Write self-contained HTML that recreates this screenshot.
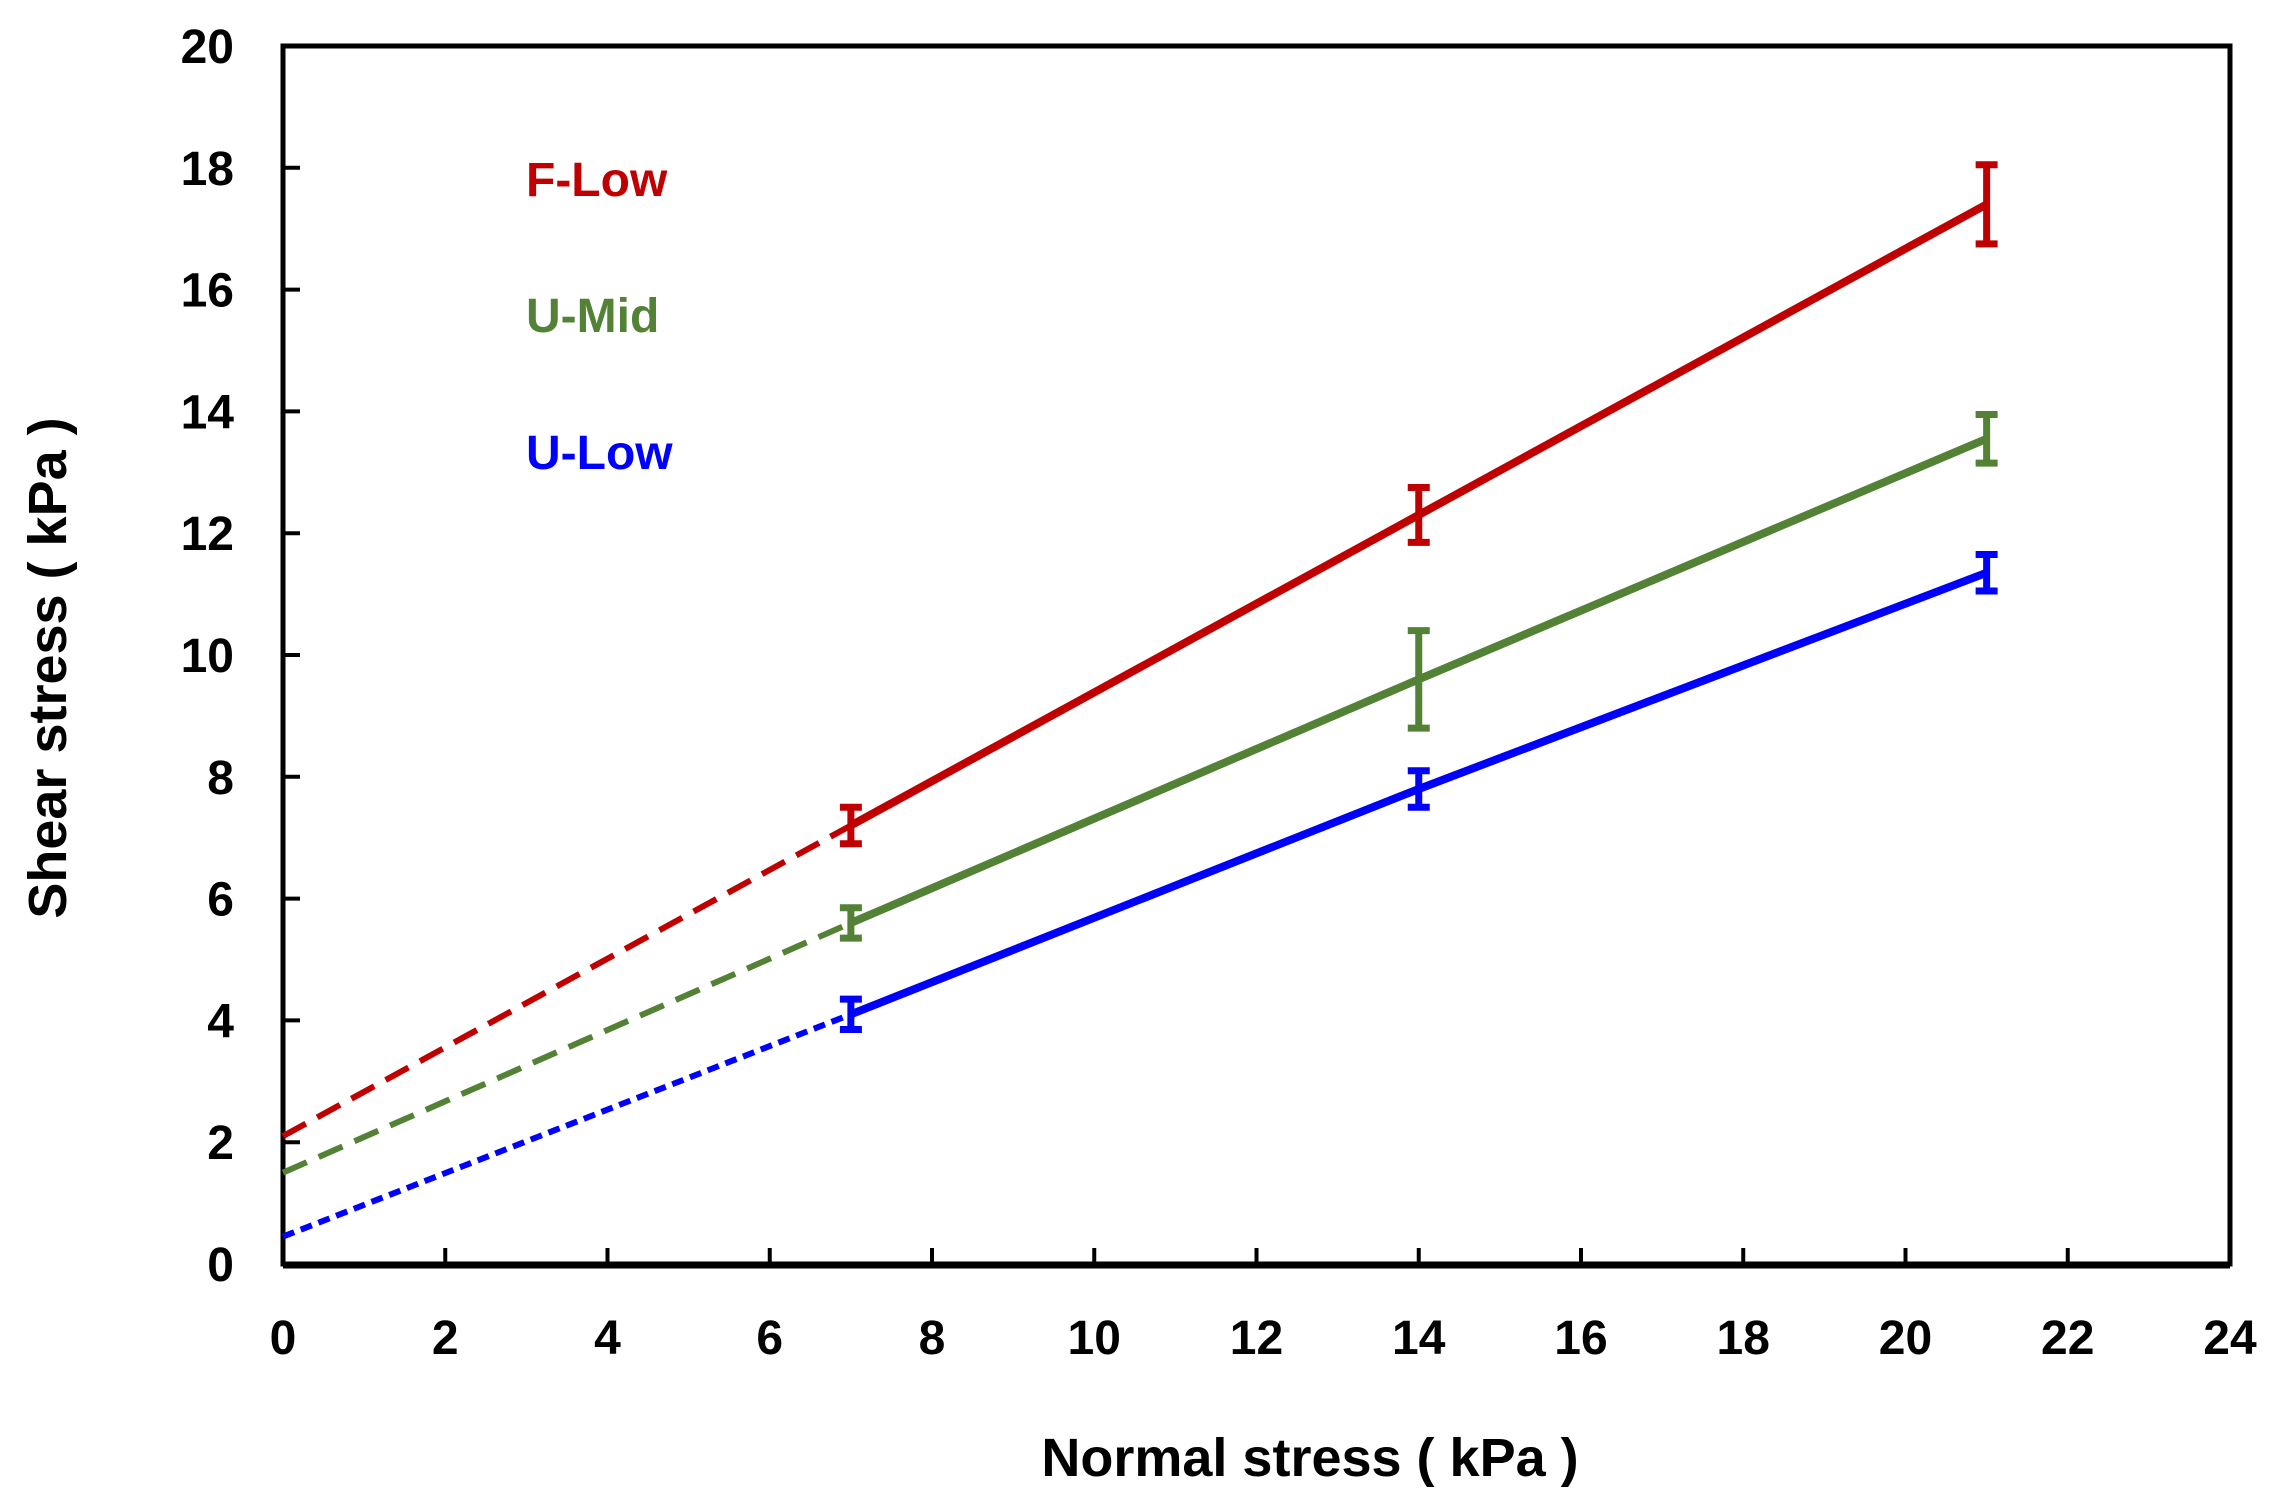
<!DOCTYPE html>
<html><head><meta charset="utf-8"><style>
html,body{margin:0;padding:0;background:#fff}
svg{display:block}
text{font-family:"Liberation Sans",sans-serif;font-weight:bold}
</style></head><body>
<svg id="chart" width="2278" height="1504" viewBox="0 0 2278 1504"></svg>
<script>
const xTicks=[0,2,4,6,8,10,12,14,16,18,20,22,24];
const yTicks=[0,2,4,6,8,10,12,14,16,18,20];
const xValues=[7,14,21];
const fLow=[7.2,12.3,17.4];
const fLowErr=[0.3,0.45,0.65];
const fLowIntercept=2.1;
const uMid=[5.6,9.6,13.55];
const uMidErr=[0.25,0.8,0.4];
const uMidIntercept=1.5;
const uLow=[4.1,7.8,11.35];
const uLowErr=[0.25,0.3,0.3];
const uLowIntercept=0.45;

const L=283,R=2230,T=46,B=1264;
const sx=v=>L+(v/24)*(R-L);
const sy=v=>B-(v/20)*(B-T);
const svg=document.getElementById('chart');
const NS='http://www.w3.org/2000/svg';
function mk(tag,attrs,parent){const e=document.createElementNS(NS,tag);for(const k in attrs)e.setAttribute(k,attrs[k]);(parent||svg).appendChild(e);return e;}

const frame=mk('rect',{x:L,y:T,width:R-L,height:B-T,fill:'none',stroke:'#000','stroke-width':5});


const bx=mk('line',{x1:L,y1:B+1,x2:R,y2:B+1,stroke:'#000','stroke-width':7});



xTicks.forEach(t=>{
  const tk=mk('line',{x1:sx(t),y1:B,x2:sx(t),y2:B-16,stroke:'#000','stroke-width':4});
  
  
  const lb=mk('text',{x:sx(t),y:1354,'font-size':48,'text-anchor':'middle'});
  lb.textContent=t;
  
  
});
yTicks.forEach(t=>{
  const tk=mk('line',{x1:L,y1:sy(t),x2:L+17,y2:sy(t),stroke:'#000','stroke-width':4});
  
  
  const lb=mk('text',{x:234,y:sy(t)+17,'font-size':48,'text-anchor':'end'});
  lb.textContent=t;
  
  
});

const xt=mk('text',{x:1310,y:1476,'font-size':54,'text-anchor':'middle'});
xt.textContent='Normal  stress ( kPa )';


const yt=mk('text',{x:0,y:0,'font-size':54,'text-anchor':'middle',transform:'translate(66,668) rotate(-90)'});
yt.textContent='Shear  stress ( kPa )';



const series=[
  {name:'f-low',vals:fLow,err:fLowErr,ic:fLowIntercept,color:'#c00000',dash:'26 13',ly:196,label:'F-Low'},
  {name:'u-mid',vals:uMid,err:uMidErr,ic:uMidIntercept,color:'#538135',dash:'26 13',ly:332,label:'U-Mid'},
  {name:'u-low',vals:uLow,err:uLowErr,ic:uLowIntercept,color:'#0000ff',dash:'12 7',ly:469,label:'U-Low'}
];
series.forEach(s=>{
  const ext=mk('line',{x1:sx(0),y1:sy(s.ic),x2:sx(xValues[0]),y2:sy(s.vals[0]),stroke:s.color,'stroke-width':6,'stroke-dasharray':s.dash});
  
  
  const pts=xValues.map((x,i)=>sx(x)+','+sy(s.vals[i])).join(' ');
  const pl=mk('polyline',{points:pts,fill:'none',stroke:s.color,'stroke-width':8});
  
  
  xValues.forEach((x,i)=>{
    const g=mk('g',{stroke:s.color,'stroke-width':7});
    
    
    const y1=sy(s.vals[i]+s.err[i]),y2=sy(s.vals[i]-s.err[i]),cx=sx(x);
    mk('line',{x1:cx,y1:y1,x2:cx,y2:y2},g);
    mk('line',{x1:cx-11,y1:y1,x2:cx+11,y2:y1},g);
    mk('line',{x1:cx-11,y1:y2,x2:cx+11,y2:y2},g);
  });
  const lt=mk('text',{x:526,y:s.ly,'font-size':48,fill:s.color});
  lt.textContent=s.label;
  
  
});
</script>
</body></html>
